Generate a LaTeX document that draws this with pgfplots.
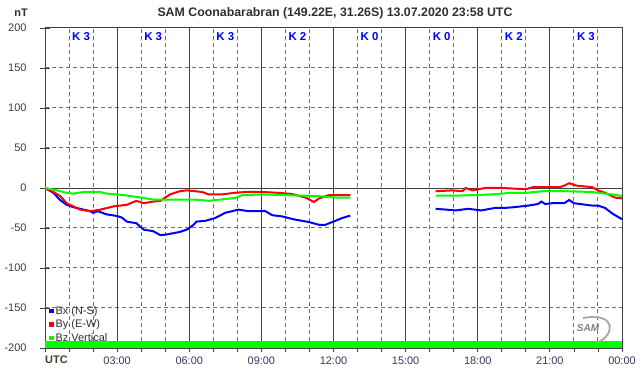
\documentclass[border=0pt]{standalone}
\usepackage{fontspec}
\setmainfont{Liberation Sans}
\usepackage{pgfplots}
\pgfplotsset{compat=1.18}
\definecolor{framec}{HTML}{404040}
\definecolor{gridc}{HTML}{707070}
\definecolor{ylab}{HTML}{4A3A28}
\definecolor{xlab}{HTML}{45305E}
\definecolor{bxc}{HTML}{0000FF}
\definecolor{byc}{HTML}{FF0000}
\definecolor{bzc}{HTML}{00FF00}
\definecolor{titlec}{HTML}{303030}
\pgfplotsset{base/.style={at={(45bp,28bp)}, anchor=south west, scale only axis,
  width=577bp, height=320bp, xmin=0, xmax=24, ymin=-200, ymax=200},
  gl/.style={gridc, line width=1bp, dash pattern=on 4bp off 3bp, forget plot}}
\begin{document}
\begin{tikzpicture}
\path[use as bounding box] (0,0) rectangle (642bp,376bp);
% dashed hourly / 50 nT grid lines
\begin{axis}[base, hide axis]
\addplot[gl] coordinates {(1,-200)(1,200)};
\addplot[gl] coordinates {(2,-200)(2,200)};
\addplot[gl] coordinates {(4,-200)(4,200)};
\addplot[gl] coordinates {(5,-200)(5,200)};
\addplot[gl] coordinates {(7,-200)(7,200)};
\addplot[gl] coordinates {(8,-200)(8,200)};
\addplot[gl] coordinates {(10,-200)(10,200)};
\addplot[gl] coordinates {(11,-200)(11,200)};
\addplot[gl] coordinates {(13,-200)(13,200)};
\addplot[gl] coordinates {(14,-200)(14,200)};
\addplot[gl] coordinates {(16,-200)(16,200)};
\addplot[gl] coordinates {(17,-200)(17,200)};
\addplot[gl] coordinates {(19,-200)(19,200)};
\addplot[gl] coordinates {(20,-200)(20,200)};
\addplot[gl] coordinates {(22,-200)(22,200)};
\addplot[gl] coordinates {(23,-200)(23,200)};
\addplot[gl] coordinates {(0,150)(24,150)};
\addplot[gl] coordinates {(0,100)(24,100)};
\addplot[gl] coordinates {(0,50)(24,50)};
\addplot[gl] coordinates {(0,-50)(24,-50)};
\addplot[gl] coordinates {(0,-100)(24,-100)};
\addplot[gl] coordinates {(0,-150)(24,-150)};
\end{axis}
% solid 3-hour and zero lines
\begin{axis}[base,
  axis line style={draw=none}, major tick length=0pt,
  xtick={3,6,...,21}, ytick={0},
  xticklabels={}, yticklabels={},
  xmajorgrids=true, ymajorgrids=true,
  grid style={color=framec, line width=0.8bp, solid},
]
\end{axis}
% main axis with data
\begin{axis}[base,
  axis line style={framec, line width=1bp},
  ytick={-200,-150,...,200},
  yticklabels={-200,-150,-100,-50,0,50,100,150,200},
  ytick pos=left, xtick=\empty,
  tick align=center, major tick length=10bp,
  tick style={framec, line width=0.8bp},
  yticklabel style={font=\fontsize{11}{13}\selectfont, text=ylab, xshift=-10bp},
  legend style={at={(0.005,0.14)}, anchor=north west, draw=none, fill=none,
    font=\fontsize{11}{12.5}\selectfont, text=titlec, inner sep=1bp, row sep=0pt,
    legend cell align=left},
  legend image code/.code={\fill[#1] (0.5bp,-1.2bp) rectangle (3bp,1.2bp);},
]
\addplot[fill=bzc, draw=none, forget plot] coordinates {(0,-200)(24,-200)(24,-191)(0,-191)} -- cycle;

\addplot[bxc, line width=2bp] coordinates {
(0,0)(0.35,-6)(0.63,-15)(0.9,-21)(1.18,-24)(1.6,-27)(1.875,-29)(2.0,-31)(2.2,-29)(2.57,-33)(3.0,-35)(3.2,-37)(3.4,-42)(3.8,-44)(4.1,-52)(4.5,-54)(4.8,-59)(5.07,-58)(5.6,-55)(5.9,-52)(6.18,-46)(6.3,-42)(6.67,-41)(7.08,-37.5)(7.5,-31)(8.05,-27)(8.47,-29)(9.17,-29)(9.45,-34)(9.86,-35.5)(10.4,-39.5)(10.97,-42.5)(11.4,-46)(11.66,-46)(12.08,-41)(12.36,-37.5)(12.7,-34.5)};
\addlegendentry{Bx (N-S)}
\addplot[byc, line width=2bp] coordinates {
(0,0)(0.35,-5)(0.63,-10)(0.9,-19)(1.18,-23)(1.46,-27)(1.875,-29)(2.3,-27)(2.85,-23)(3.4,-21)(3.8,-16)(4.1,-19)(4.5,-17)(4.8,-16)(5.2,-8)(5.6,-4)(5.9,-3)(6.25,-4)(6.53,-5)(6.8,-8)(7.36,-8)(7.9,-6)(8.33,-5)(9.03,-5)(9.7,-6)(10.28,-7.5)(10.84,-12)(11.18,-17.5)(11.4,-13)(11.8,-9)(12.4,-9)(12.7,-9)};
\addlegendentry{By (E-W)}
\addplot[bzc, line width=2bp] coordinates {
(0,0)(0.35,-2)(0.9,-6)(1.18,-7)(1.6,-5)(2.3,-5)(2.57,-7)(3.3,-9)(4.0,-12)(4.5,-14.5)(5.3,-14.5)(6.25,-14.5)(6.8,-16)(7.9,-12.5)(8.2,-9)(9.03,-8)(10.1,-9)(11.3,-10)(12.1,-12)(12.7,-12)};
\addlegendentry{Bz Vertical}

\addplot[bxc, line width=2bp, forget plot] coordinates {
(16.25,-26)(17.1,-28)(17.6,-26)(18.15,-28)(18.7,-25)(19.1,-25)(19.5,-24)(20.1,-22)(20.5,-20)(20.65,-17)(20.8,-20)(21.1,-19)(21.6,-19)(21.8,-15)(22.0,-19)(22.76,-22)(23.0,-22)(23.3,-25)(23.6,-32)(24,-39)};
\addplot[byc, line width=2bp, forget plot] coordinates {
(16.25,-4)(16.94,-3)(17.36,-4)(17.5,0)(17.78,-3)(18.3,0)(19.0,0)(20.0,-1.5)(20.3,1)(21.4,1)(21.6,3)(21.8,6)(22.1,3)(22.76,1)(23.0,-3)(23.3,-6)(23.7,-12)(24,-13)};
\addplot[bzc, line width=2bp, forget plot] coordinates {
(16.25,-9.5)(17.2,-9.5)(18.6,-8)(19.4,-6)(20.0,-6)(20.7,-4)(21.7,-4)(22.76,-5)(23.0,-6)(23.6,-8)(24,-10)};

\node[text=bxc, font=\bfseries\fontsize{11.5}{12}\selectfont] at (axis cs:1.5,189) {K 3};
\node[text=bxc, font=\bfseries\fontsize{11.5}{12}\selectfont] at (axis cs:4.5,189) {K 3};
\node[text=bxc, font=\bfseries\fontsize{11.5}{12}\selectfont] at (axis cs:7.5,189) {K 3};
\node[text=bxc, font=\bfseries\fontsize{11.5}{12}\selectfont] at (axis cs:10.5,189) {K 2};
\node[text=bxc, font=\bfseries\fontsize{11.5}{12}\selectfont] at (axis cs:13.5,189) {K 0};
\node[text=bxc, font=\bfseries\fontsize{11.5}{12}\selectfont] at (axis cs:16.5,189) {K 0};
\node[text=bxc, font=\bfseries\fontsize{11.5}{12}\selectfont] at (axis cs:19.5,189) {K 2};
\node[text=bxc, font=\bfseries\fontsize{11.5}{12}\selectfont] at (axis cs:22.5,189) {K 3};
\end{axis}
% bottom x ticks and labels
\begin{axis}[base,
  axis x line*=bottom, axis y line=none,
  x axis line style={draw=none},
  tick align=outside, major tick length=4bp,
  tick style={framec, line width=0.8bp},
  xtick={0,1,...,24},
  xticklabels={,,,03:00,,,06:00,,,09:00,,,12:00,,,15:00,,,18:00,,,21:00,,,00:00},
  ytick=\empty,
  xticklabel style={font=\fontsize{11}{13}\selectfont, text=xlab, yshift=-1bp},
]
\end{axis}
\node[font=\bfseries\fontsize{12.4}{14}\selectfont, text=titlec] at (335bp,363bp) {SAM Coonabarabran (149.22E, 31.26S) 13.07.2020 23:58 UTC};
\node[font=\bfseries\fontsize{11}{13}\selectfont, text=titlec] at (21bp,363bp) {nT};
\node[font=\bfseries\fontsize{11}{13}\selectfont, text=ylab, anchor=west, inner sep=0pt] at (45bp,16bp) {UTC};
\node[font=\bfseries\itshape\fontsize{10}{12}\selectfont, text=gray] at (588bp,48bp) {SAM};
\draw[gray!70, line width=1.8bp] (583bp,58bp) .. controls (618bp,64bp) and (614bp,40bp) .. (598bp,34bp);
\end{tikzpicture}
\end{document}
